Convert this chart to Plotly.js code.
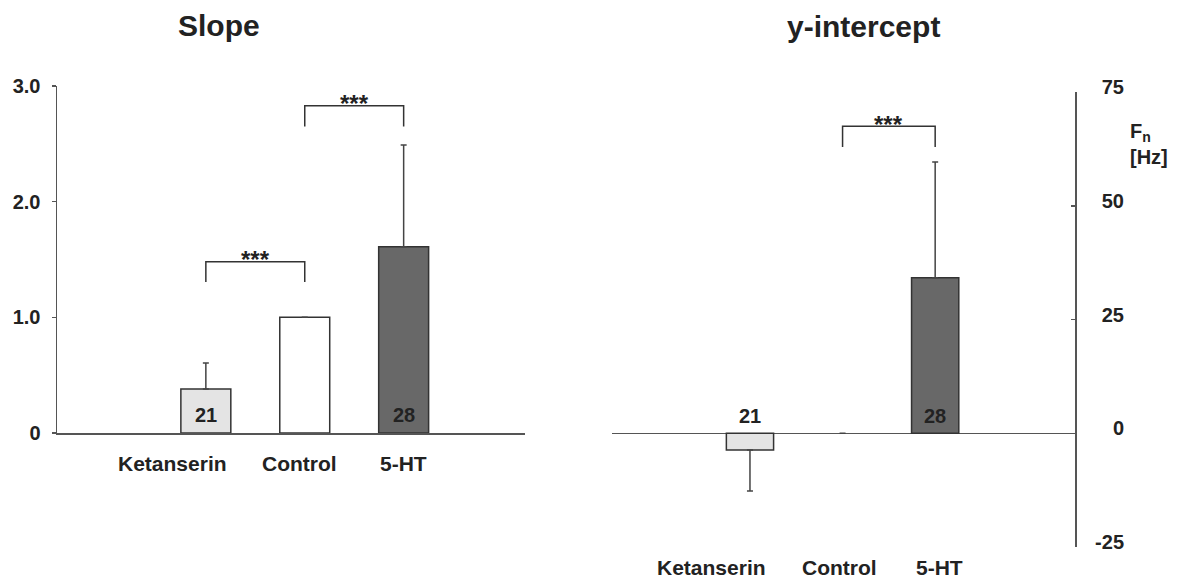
<!DOCTYPE html>
<html>
<head>
<meta charset="utf-8">
<script src="https://cdn.plot.ly/plotly-3.0.1.min.js"></script>
<style>
  html, body { margin: 0; padding: 0; background: #fff; }
  #chart { width: 1180px; height: 581px; }
</style>
</head>
<body>
<div id="chart"></div>
<script>
// Groups
const categories = ['Ketanserin', 'Control', '5-HT'];

// Slope (normalised to control)
const slopeMean = [0.38, 1.0, 1.61];
const slopeErr = [0.225, 0, 0.88];

// y-intercept, F_n [Hz]
const interceptMean = [-3.7, 0, 34.2];
const interceptErrUp = [0, 0, 25.4];
const interceptErrDown = [9.0, 0, 0];

// Number of cells per group
const nCells = ['21', '', '28'];

// Tick labels
const slopeTicks = [0, 1, 2, 3];
const slopeTickText = ['0', '1.0', '2.0', '3.0'];
const interceptTicks = [-25, 0, 25, 50, 75];
const interceptTickText = ['-25', '0', '25', '50', '75'];

// Significance brackets: [from, to, bracket top, leg bottom]
const slopeBrackets = [
  ['Ketanserin', 'Control', 1.48, 1.305],
  ['Control', '5-HT', 2.83, 2.65]
];
const interceptBrackets = [
  ['Control', '5-HT', 67.5, 62.9]
];
const sigLabel = '***';

const FONT = 'Liberation Sans, Arial, Helvetica, sans-serif';
const INK = '#222';
const AXIS = '#555';
const OUTLINE = '#333';
const fills = ['#e4e4e4', '#ffffff', '#686868'];

const W = 1180, H = 581;
const px = v => v / W;
const py = v => 1 - v / H;

const traces = [];

traces.push({
  type: 'bar', x: categories, y: slopeMean, xaxis: 'x', yaxis: 'y',
  width: 0.505,
  marker: { color: fills, line: { color: OUTLINE, width: 1.5 } },
  error_y: { type: 'data', symmetric: false, array: slopeErr,
             arrayminus: slopeErr.map(() => 0),
             color: '#444', thickness: 1.5, width: 3 },
  hoverinfo: 'skip'
});

// zero-height bars get no outline so the zero line stays clean
traces.push({
  type: 'bar', x: categories, y: interceptMean, xaxis: 'x2', yaxis: 'y2',
  width: 0.51,
  marker: { color: fills,
            line: { color: OUTLINE, width: interceptMean.map(v => (v === 0 ? 0 : 1.5)) } },
  error_y: { type: 'data', symmetric: false, array: interceptErrUp,
             arrayminus: interceptErrDown,
             color: '#444', thickness: 1.5, width: 3 },
  hoverinfo: 'skip'
});

// Brackets drawn as connected line segments
function bracketTrace(b, xa, ya) {
  return {
    type: 'scatter', mode: 'lines', xaxis: xa, yaxis: ya,
    x: [b[0], b[0], b[1], b[1]],
    y: [b[3], b[2], b[2], b[3]],
    line: { color: OUTLINE, width: 1.5 },
    hoverinfo: 'skip'
  };
}
slopeBrackets.forEach(b => traces.push(bracketTrace(b, 'x', 'y')));
interceptBrackets.forEach(b => traces.push(bracketTrace(b, 'x2', 'y2')));

// Carrier for the right-aligned tick labels of the intercept axis
traces.push({ type: 'scatter', mode: 'markers', x: [categories[1]], y: [null],
              xaxis: 'x2', yaxis: 'y3', hoverinfo: 'skip' });

const boldFont = (size) => ({ family: FONT, size: size, color: INK, weight: 'bold' });

const annotations = [];
const note = (o) => Object.assign({ showarrow: false, xanchor: 'center', yanchor: 'middle' }, o);

// Panel titles
annotations.push(note({ text: 'Slope', xref: 'paper', yref: 'paper', x: px(219), y: py(26),
                        font: boldFont(30) }));
annotations.push(note({ text: 'y-intercept', xref: 'paper', yref: 'paper', x: px(863), y: py(27),
                        font: boldFont(30) }));

// Unit label of the intercept axis
annotations.push(note({ text: 'F<sub>n</sub><br>[Hz]', xref: 'paper', yref: 'paper',
                        x: px(1128), y: py(144), xanchor: 'left', align: 'left',
                        font: boldFont(20) }));

// Group names below each panel
const slopeNameShift = [-33, -5, 0];
const interceptNameShift = [-38, -3, 4];
categories.forEach((c, i) => {
  annotations.push(note({ text: c, xref: 'x', yref: 'paper', x: c, y: py(463),
                          xshift: slopeNameShift[i], font: boldFont(21) }));
  annotations.push(note({ text: c, xref: 'x2', yref: 'paper', x: c, y: py(567),
                          xshift: interceptNameShift[i], font: boldFont(21) }));
});

// Cell counts
categories.forEach((c, i) => {
  if (!nCells[i]) return;
  annotations.push(note({ text: nCells[i], xref: 'x', yref: 'y', x: c, y: 0, yshift: 18,
                          font: boldFont(20) }));
  annotations.push(note({ text: nCells[i], xref: 'x2', yref: 'y2', x: c, y: 0, yshift: 17,
                          font: boldFont(20) }));
});

// Significance stars over each bracket
function starNote(b, xa, ya) {
  const i0 = categories.indexOf(b[0]), i1 = categories.indexOf(b[1]);
  return note({ text: sigLabel, xref: xa, yref: ya, x: (i0 + i1) / 2, y: b[2],
                yshift: 2, font: boldFont(24) });
}
slopeBrackets.forEach(b => annotations.push(starNote(b, 'x', 'y')));
interceptBrackets.forEach(b => annotations.push(starNote(b, 'x2', 'y2')));

const layout = {
  width: W, height: H,
  margin: { l: 0, r: 0, t: 0, b: 0 },
  paper_bgcolor: '#fff', plot_bgcolor: 'rgba(0,0,0,0)',
  showlegend: false,
  font: { family: FONT, color: INK },
  bargap: 0,
  xaxis: {
    domain: [px(57), px(525)], type: 'category', range: [-1.505, 3.227],
    anchor: 'y', showline: true, linecolor: AXIS, linewidth: 1.5,
    ticks: '', showticklabels: false, showgrid: false, zeroline: false, fixedrange: true
  },
  yaxis: {
    domain: [py(433), py(86)], range: [0, 3], anchor: 'x',
    showline: true, linecolor: AXIS, linewidth: 1.5,
    ticks: 'outside', ticklen: 4, tickwidth: 1.5, tickcolor: AXIS,
    tickvals: slopeTicks, ticktext: slopeTickText, ticklabelstandoff: 7,
    tickfont: boldFont(20), showgrid: false, zeroline: false, fixedrange: true
  },
  xaxis2: {
    domain: [px(612), px(1075)], type: 'category', range: [-1.49, 3.51],
    anchor: 'y2', showline: false, ticks: '', showticklabels: false,
    showgrid: false, zeroline: false, fixedrange: true
  },
  yaxis2: {
    domain: [py(547), py(92)], range: [-25, 75], anchor: 'x2', side: 'right',
    showline: true, linecolor: AXIS, linewidth: 1.5,
    ticks: 'inside', ticklen: 4, tickwidth: 1.5, tickcolor: AXIS,
    tickvals: interceptTicks, showticklabels: false,
    showgrid: false, zeroline: true, zerolinecolor: AXIS, zerolinewidth: 1.5,
    fixedrange: true
  },
  yaxis3: {
    overlaying: 'y2', anchor: 'free', position: px(1124), side: 'left',
    range: [-25, 75], showline: false, ticks: '', ticklen: 0,
    tickvals: interceptTicks, ticktext: interceptTickText, ticklabelshift: -5,
    tickfont: boldFont(20), showgrid: false, zeroline: false, fixedrange: true
  },
  annotations: annotations
};

Plotly.newPlot('chart', traces, layout, { staticPlot: true, displayModeBar: false });
</script>
</body>
</html>
